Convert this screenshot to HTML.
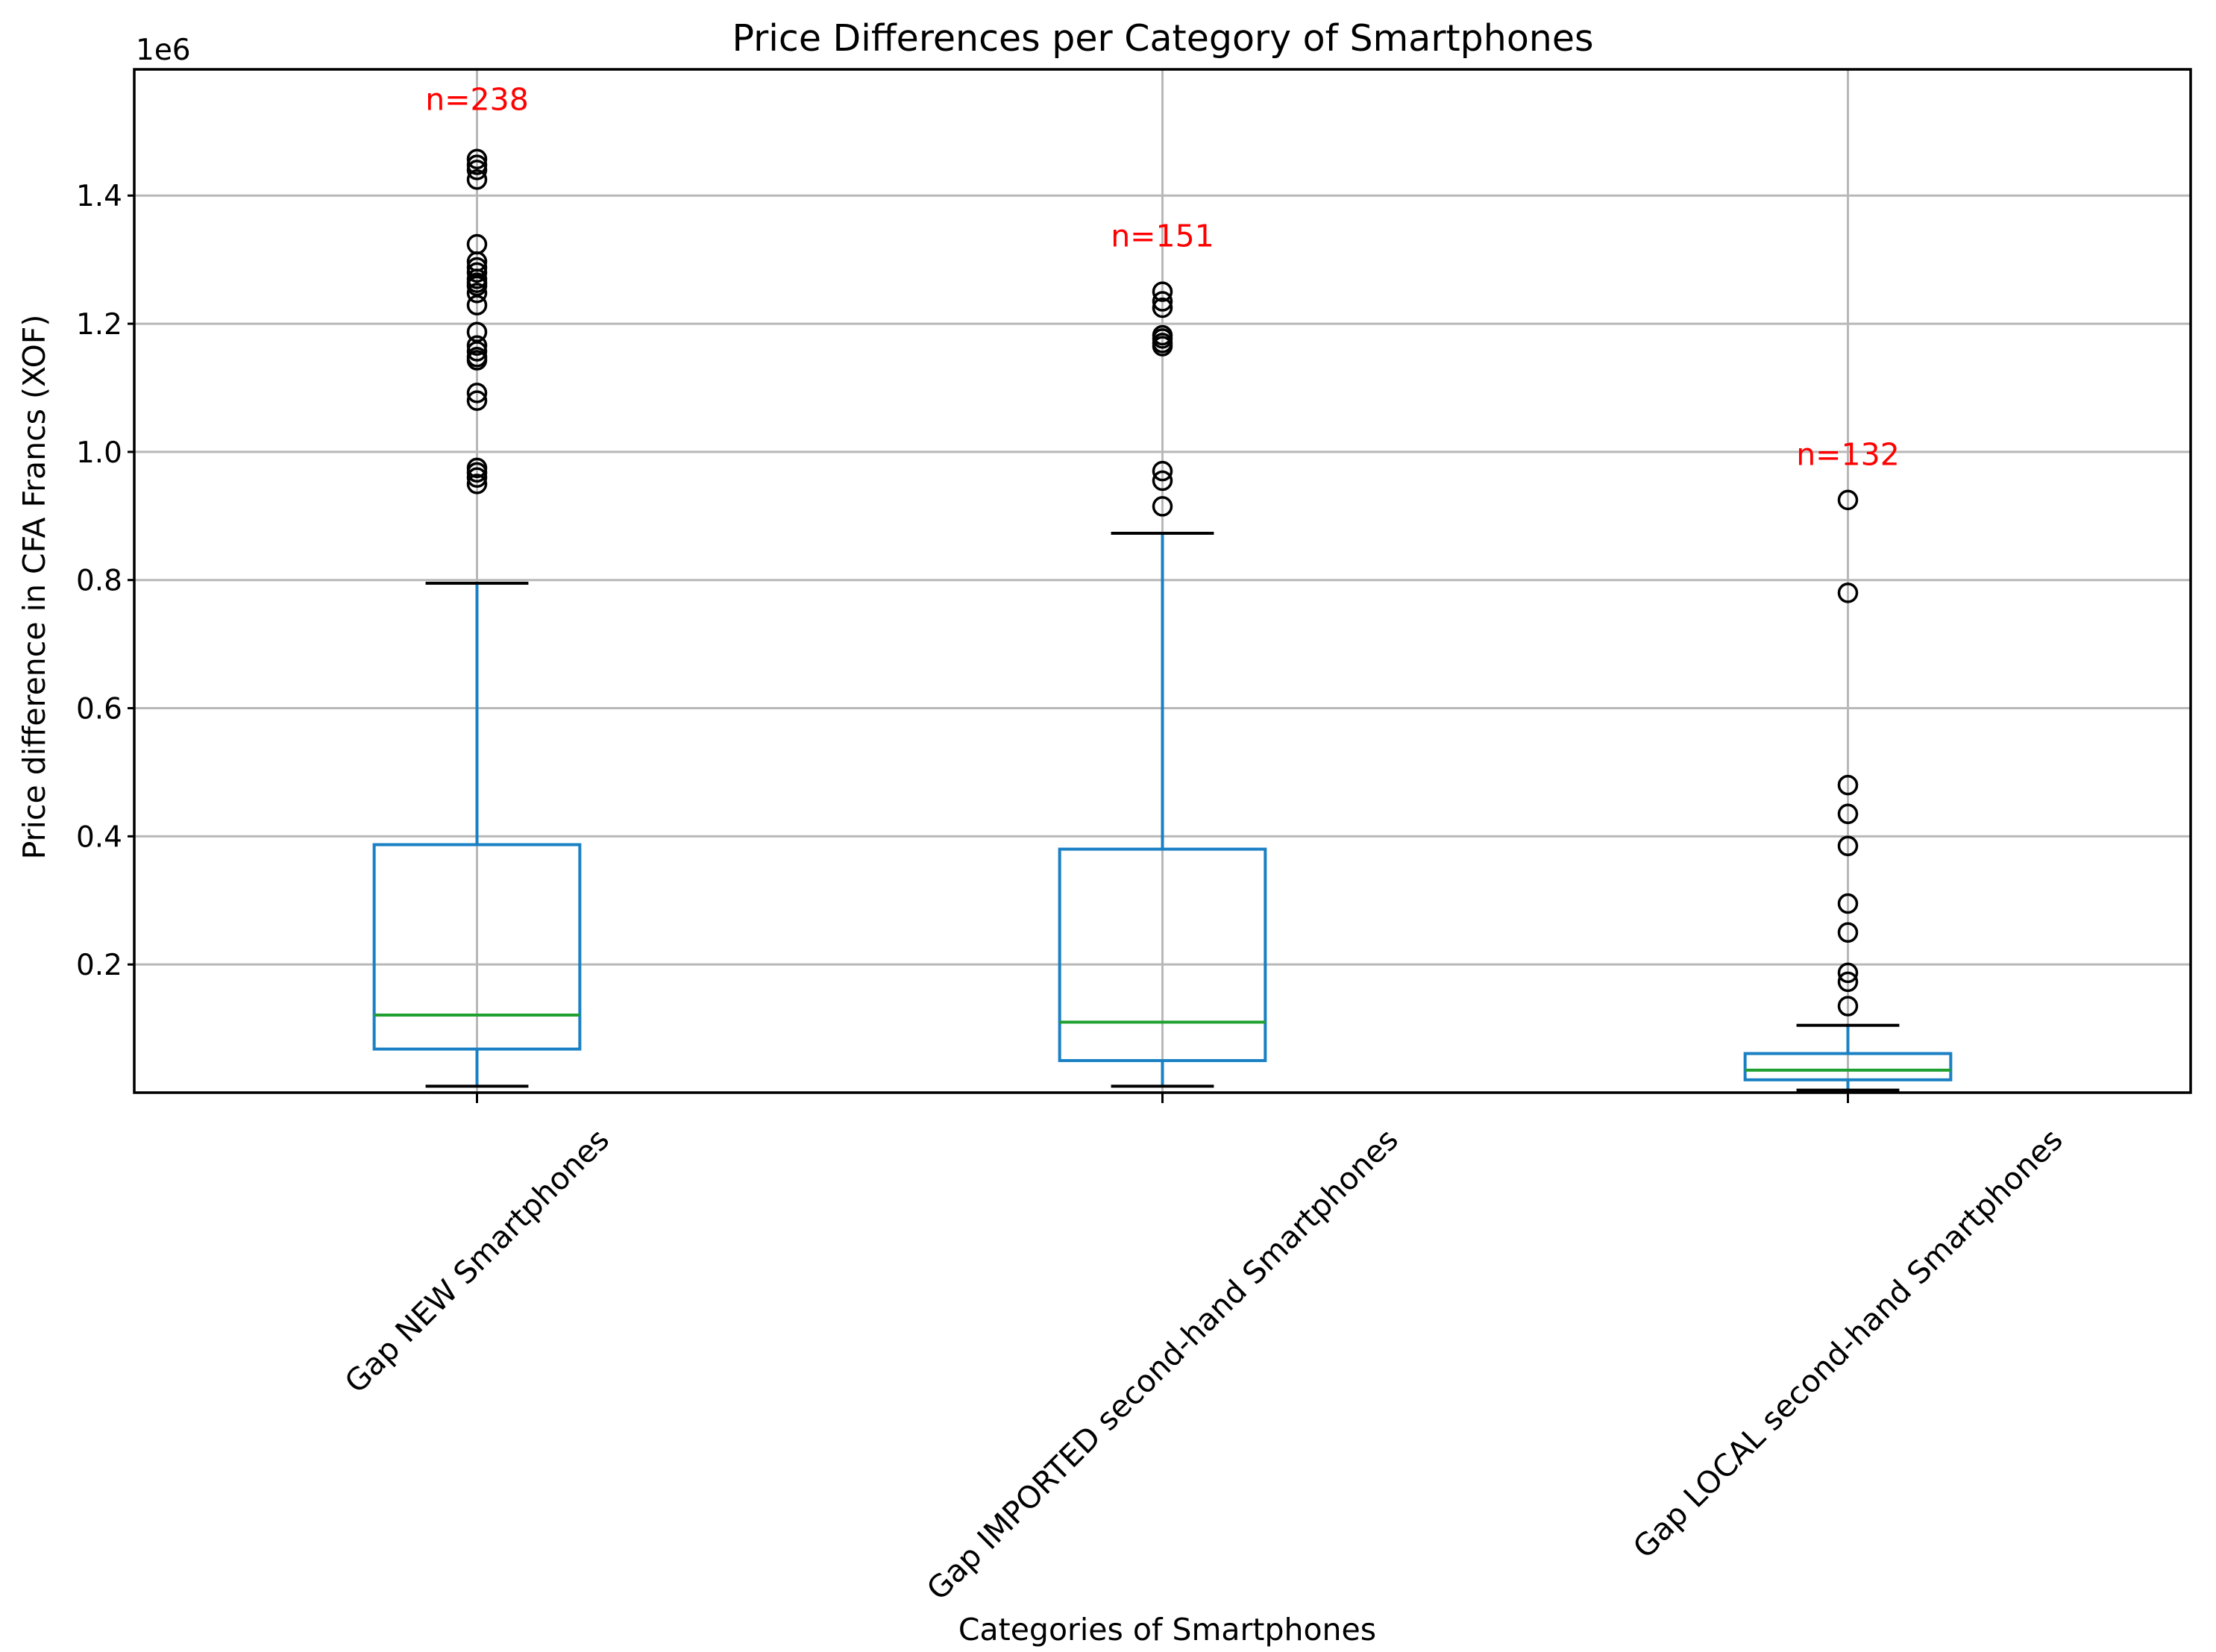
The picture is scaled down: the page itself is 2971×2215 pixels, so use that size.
<!DOCTYPE html>
<html><head><meta charset="utf-8"><style>
html,body{margin:0;padding:0;background:#fff;}
svg{display:block;font-family:"DejaVu Sans","Liberation Sans",sans-serif;}
</style></head><body>
<svg id="chart" width="2971" height="2215" viewBox="0 0 2971 2215" xmlns="http://www.w3.org/2000/svg">
<rect width="2971" height="2215" fill="#fff"/>
<g id="grid"></g>
<g id="plot"></g>
<g id="axes"></g>
<text x="1559" y="68" font-size="49" text-anchor="middle" fill="#000">Price Differences per Category of Smartphones</text>
<text x="0" y="0" font-size="41" text-anchor="middle" fill="#000" transform="translate(60,787) rotate(-90)">Price difference in CFA Francs (XOF)</text>
<text x="1565" y="2199" font-size="41" text-anchor="middle" fill="#000">Categories of Smartphones</text>
<text x="182" y="80" font-size="39" fill="#000">1e6</text>
</svg>
<script>
const categories = ["Gap NEW Smartphones","Gap IMPORTED second-hand Smartphones","Gap LOCAL second-hand Smartphones"];
const q1 = [0.068, 0.050, 0.020];
const median = [0.121, 0.110, 0.035];
const q3 = [0.387, 0.380, 0.061];
const whiskerLow = [0.010, 0.010, 0.004];
const whiskerHigh = [0.795, 0.873, 0.105];
const outliers = [
  [1.457,1.448,1.440,1.425,1.324,1.297,1.288,1.280,1.270,1.264,1.259,1.248,1.229,1.187,1.166,1.157,1.148,1.143,1.092,1.080,0.975,0.968,0.960,0.950],
  [1.250,1.235,1.225,1.182,1.177,1.170,1.165,0.970,0.955,0.915],
  [0.925,0.780,0.480,0.435,0.385,0.295,0.250,0.187,0.173,0.135]
];
const countLabels = ["n=238","n=151","n=132"];
const countLabelY = [1.55, 1.337, 0.996];
const yTicks = [0.2,0.4,0.6,0.8,1.0,1.2,1.4];
const yTickLabels = ["0.2","0.4","0.6","0.8","1.0","1.2","1.4"];

const L=180,R=2937,T=93,B=1465;
const yMin=0, yMax=1.597;
const xMin=0.5, xMax=3.5;
const NS="http://www.w3.org/2000/svg";
function X(i){return L+(i-xMin)/(xMax-xMin)*(R-L);}
function Y(v){return B-(v-yMin)/(yMax-yMin)*(B-T);}
function mk(tag,attrs,parent){const e=document.createElementNS(NS,tag);for(const k in attrs)e.setAttribute(k,attrs[k]);parent.appendChild(e);return e;}
const grid=document.getElementById('grid'),plot=document.getElementById('plot'),axes=document.getElementById('axes');
const BLUE="#1a80c4",GREEN="#1fa030";

yTicks.forEach((v,i)=>{
  const g=mk('line',{x1:L,x2:R,y1:Y(v),y2:Y(v),stroke:"#b8b8b8","stroke-width":3},grid);
  
  
  const t=mk('line',{x1:L-9,x2:L,y1:Y(v),y2:Y(v),stroke:"#000","stroke-width":3},axes);
  
  
  const lb=mk('text',{x:L-16,y:Y(v)+14,"font-size":39,"text-anchor":"end",fill:"#000"},axes);
  lb.textContent=yTickLabels[i];
  
  
});
categories.forEach((c,i)=>{
  const x=X(i+1);
  const g=mk('line',{x1:x,x2:x,y1:T,y2:B,stroke:"#b8b8b8","stroke-width":3},grid);
  
  
  const hw=(X(1.15)-X(1)), cw=(X(1.075)-X(1));
  const w1=mk('line',{x1:x,x2:x,y1:Y(q3[i]),y2:Y(whiskerHigh[i]),stroke:BLUE,"stroke-width":4},plot);
  
  
  const w2=mk('line',{x1:x,x2:x,y1:Y(q1[i]),y2:Y(whiskerLow[i]),stroke:BLUE,"stroke-width":4},plot);
  
  
  const c1=mk('line',{x1:x-cw,x2:x+cw,y1:Y(whiskerHigh[i]),y2:Y(whiskerHigh[i]),stroke:"#000","stroke-width":4},plot);
  
  
  const c2=mk('line',{x1:x-cw,x2:x+cw,y1:Y(whiskerLow[i]),y2:Y(whiskerLow[i]),stroke:"#000","stroke-width":4},plot);
  
  
  const bx=mk('rect',{x:x-hw,y:Y(q3[i]),width:2*hw,height:Y(q1[i])-Y(q3[i]),fill:"none",stroke:BLUE,"stroke-width":4},plot);
  
  
  const md=mk('line',{x1:x-hw,x2:x+hw,y1:Y(median[i]),y2:Y(median[i]),stroke:GREEN,"stroke-width":4},plot);
  
  
  outliers[i].forEach(v=>{
    const o=mk('circle',{cx:x,cy:Y(v),r:12,fill:"none",stroke:"#000","stroke-width":3.5},plot);
    
    
  });
  const n=mk('text',{x:x,y:Y(countLabelY[i])+14,"font-size":41,"text-anchor":"middle",fill:"#ff0000"},plot);
  n.textContent=countLabels[i];
  
  
  const tk=mk('line',{x1:x,x2:x,y1:B,y2:B+14,stroke:"#000","stroke-width":3},axes);
  
  
  const lb=mk('text',{x:0,y:0,"font-size":41,"text-anchor":"middle","dominant-baseline":"central",fill:"#000"},axes);
  lb.textContent=c;
  
  
  const len=lb.getComputedTextLength();
  const h=41*1.17;
  const cy=B+39+(len*Math.SQRT1_2+h*Math.SQRT1_2)/2;
  lb.setAttribute('transform','translate('+x+','+cy+') rotate(-45)');
});
const fr=mk('rect',{x:L,y:T,width:R-L,height:B-T,fill:"none",stroke:"#000","stroke-width":3.5},axes);


</script>
</body></html>
